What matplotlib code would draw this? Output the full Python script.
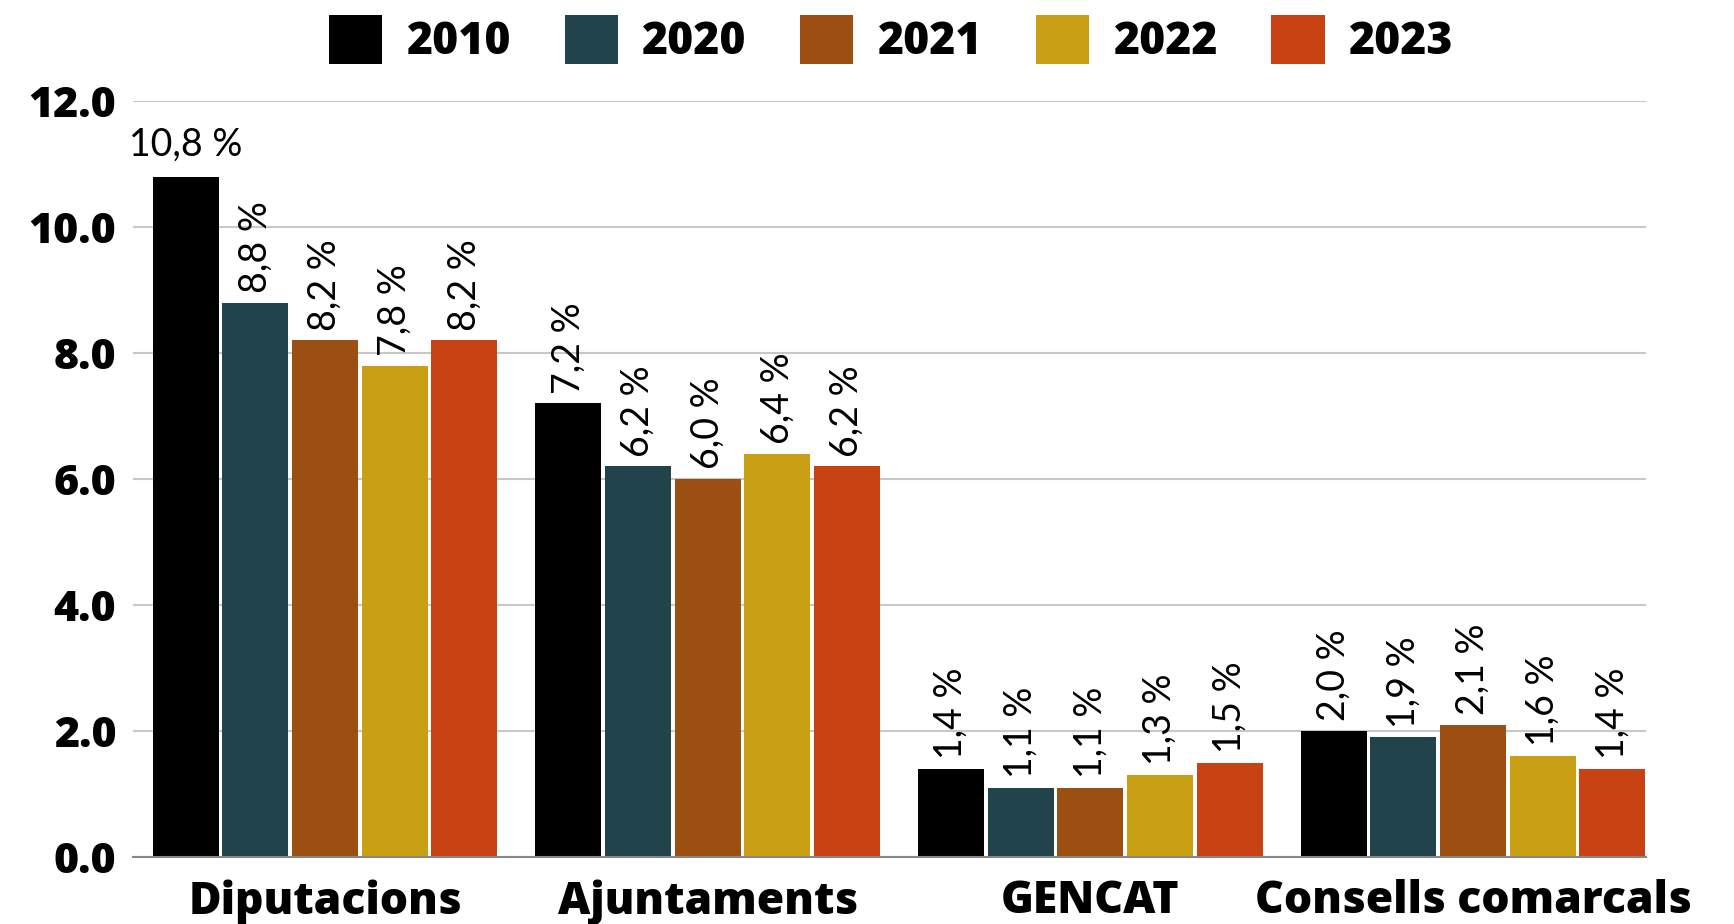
import matplotlib
matplotlib.use("Agg")
import matplotlib.pyplot as plt
import numpy as np

categories = ["Diputacions", "Ajuntaments", "GENCAT", "Consells comarcals"]
years = ["2010", "2020", "2021", "2022", "2023"]
values = {
    "2010": [10.8, 7.2, 1.4, 2.0],
    "2020": [8.8, 6.2, 1.1, 1.9],
    "2021": [8.2, 6.0, 1.1, 2.1],
    "2022": [7.8, 6.4, 1.3, 1.6],
    "2023": [8.2, 6.2, 1.5, 1.4],
}
colors = ["#000000", "#21434c", "#9b5011", "#c9a013", "#c94213"]
yticks = [0, 2, 4, 6, 8, 10, 12]

HEAVY = dict(family=["Open Sans", "DejaVu Sans"], weight="heavy")
LIGHT = dict(family=["Lato", "DejaVu Sans"], weight="normal")
FS = 32

fig = plt.figure(figsize=(17.34, 9.24), dpi=100)
ax = fig.add_axes([133/1734, 1-857/924, (1646-133)/1734, (857-101)/924])

pitch = 0.182
width = 0.1725
x = np.arange(len(categories))
handles = []
for j, (yr, c) in enumerate(zip(years, colors)):
    pos = x + (j - 2) * pitch
    bars = ax.bar(pos, values[yr], width=width, color=c, label=yr, zorder=3)
    handles.append(bars)
    for k, (p, v) in enumerate(zip(pos, values[yr])):
        txt = f"{v:.1f}".replace(".", ",") + " %"
        if j == 0 and k == 0:
            ax.annotate(txt, (p, v), xytext=(0, 10), textcoords="offset points",
                        ha="center", va="bottom", fontsize=27, color="#000000", **LIGHT)
        else:
            ax.annotate(txt, (p, v), xytext=(0, 7), textcoords="offset points",
                        ha="center", va="bottom", rotation=90, fontsize=27,
                        color="#000000", **LIGHT)

ax.set_xlim(-0.502, 3.452)
ax.set_ylim(0, 12)
ax.set_yticks(yticks)
ax.set_yticklabels([f"{t:.1f}" for t in yticks])
ax.set_xticks(x)
ax.set_xticklabels(categories)
for lab in ax.get_yticklabels():
    lab.set_fontsize(31); lab.set_fontfamily(HEAVY["family"]); lab.set_fontweight(HEAVY["weight"])
for lab in ax.get_xticklabels():
    lab.set_fontsize(FS); lab.set_fontfamily(HEAVY["family"]); lab.set_fontweight(HEAVY["weight"])
ax.tick_params(axis="both", length=0)
ax.tick_params(axis="y", pad=12)
ax.tick_params(axis="x", pad=16)
ax.grid(axis="y", color="#c8c8c8", linewidth=1.5, zorder=0)
for s in ["top", "right", "left"]:
    ax.spines[s].set_visible(False)
ax.spines["bottom"].set_color("#888888")
ax.spines["bottom"].set_linewidth(1.5)
ax.spines["bottom"].set_zorder(4)

leg = fig.legend(handles=handles, labels=years, loc="center", bbox_to_anchor=(0.514, 1-40/924),
                 ncol=5, frameon=False, prop=dict(family=HEAVY["family"], weight=HEAVY["weight"], size=FS),
                 handlelength=1.2, handleheight=1.35, handletextpad=0.55, columnspacing=1.2)

fig.savefig("out.png", dpi=100, facecolor="white")
